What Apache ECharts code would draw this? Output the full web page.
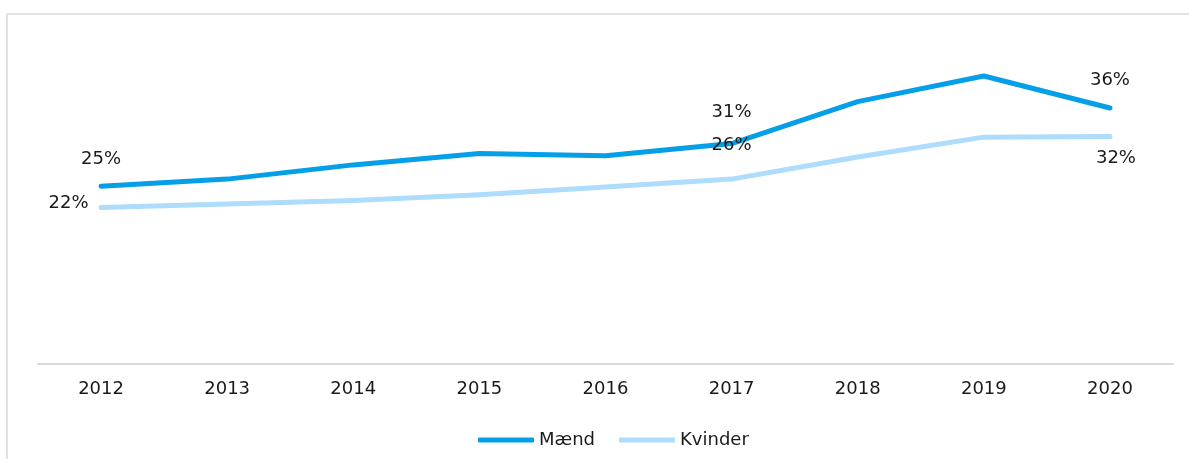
<!DOCTYPE html>
<html>
<head>
<meta charset="utf-8">
<script src="https://cdn.jsdelivr.net/npm/echarts@6/dist/echarts.min.js"></script>
<style>
  html, body { margin: 0; padding: 0; background: #ffffff; }
  #chart { width: 1189px; height: 459px; }
</style>
</head>
<body>
<div id="chart"></div>
<script>
// Andel i procent, 2012–2020
const years = ['2012', '2013', '2014', '2015', '2016', '2017', '2018', '2019', '2020'];
const maend = [25, 26.0, 28.0, 29.6, 29.3, 31, 36.9, 40.5, 36];
const kvinder = [22, 22.5, 23.0, 23.8, 24.9, 26, 29.1, 31.9, 32];

const FONT = 'DejaVu Sans, Verdana, sans-serif';
const TEXT = '#1a1a1a';
const labelBase = { show: true, color: TEXT, fontFamily: FONT, fontSize: 18, formatter: p => Math.round(p.value) + '%' };

// Only selected years carry a value label
function withLabels(values, placements) {
  return values.map((v, i) => {
    const pl = placements[i];
    if (!pl) return { value: v, label: { show: false } };
    return { value: v, label: Object.assign({}, labelBase, pl) };
  });
}

const maendData = withLabels(maend, {
  0: { position: 'top', distance: 17 },
  5: { position: 'top', distance: 22 },
  8: { position: 'top', distance: 18 }
});
const kvinderData = withLabels(kvinder, {
  0: { position: 'left', distance: 12, offset: [0, -4] },
  5: { position: 'top', distance: 24 },
  8: { position: 'bottom', distance: 12, offset: [6, 0] }
});

// Frame around the chart area: top and left edges only
const frameStyle = { stroke: '#d9d9d6', lineWidth: 1.5 };

const chart = echarts.init(document.getElementById('chart'), null, { renderer: 'canvas' });
chart.setOption({
  animation: false,
  backgroundColor: '#ffffff',
  graphic: [
    { type: 'line', shape: { x1: 7, y1: 14, x2: 1189, y2: 14 }, style: frameStyle, silent: true },
    { type: 'line', shape: { x1: 7, y1: 14, x2: 7, y2: 459 }, style: frameStyle, silent: true }
  ],
  grid: { left: 38, right: 16, top: 44, bottom: 95 },
  xAxis: {
    type: 'category',
    data: years,
    boundaryGap: true,
    axisLine: { lineStyle: { color: '#d9d9d9', width: 2 } },
    axisTick: { show: false },
    axisLabel: { color: TEXT, fontFamily: FONT, fontSize: 18, margin: 16 }
  },
  yAxis: {
    type: 'value',
    min: 0,
    max: 45,
    show: false,
    splitLine: { show: false }
  },
  legend: {
    left: 473,
    top: 426,
    icon: 'roundRect',
    itemWidth: 56,
    itemHeight: 5,
    itemGap: 24,
    textStyle: { color: TEXT, fontFamily: FONT, fontSize: 18 },
    data: ['Mænd', 'Kvinder']
  },
  series: [
    {
      name: 'Mænd',
      type: 'line',
      data: maendData,
      symbol: 'circle',
      symbolSize: 1,
      color: '#059fe8',
      itemStyle: { color: '#059fe8' },
      lineStyle: { color: '#059fe8', width: 5, cap: 'round', join: 'round' },
      z: 2
    },
    {
      name: 'Kvinder',
      type: 'line',
      data: kvinderData,
      symbol: 'circle',
      symbolSize: 1,
      color: '#addcfc',
      itemStyle: { color: '#addcfc' },
      lineStyle: { color: '#addcfc', width: 5, cap: 'round', join: 'round' },
      z: 3
    }
  ]
});
</script>
</body>
</html>
